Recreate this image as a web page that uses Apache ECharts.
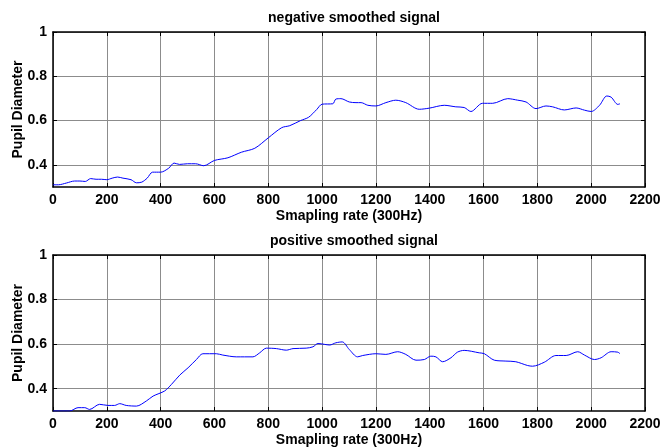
<!DOCTYPE html>
<html>
<head>
<meta charset="utf-8">
<script src="https://cdn.jsdelivr.net/npm/echarts@6/dist/echarts.min.js"></script>
<style>
  html, body { margin: 0; padding: 0; background: #fff; }
  #chart { width: 672px; height: 448px; }
</style>
</head>
<body>
<div id="chart"></div>
<script>
// negative smoothed signal
const negX = [0, 20, 50, 80, 100, 120, 140, 160, 180, 200, 220, 240, 260, 290, 310, 330, 350, 370, 400, 430, 450, 470, 500, 530, 560, 600, 650, 700, 750, 800, 850, 880, 920, 950, 980, 1000, 1040,
  1051, 1070, 1101, 1126, 1145, 1170, 1200, 1237, 1274, 1311, 1361, 1398, 1454, 1497, 1528, 1553, 1596, 1634, 1690, 1727, 1758, 1795, 1832, 1857, 1900, 1944, 1975, 2000, 2031, 2058, 2074, 2099, 2107];
const negY = [0.31, 0.31, 0.318, 0.327, 0.327, 0.325, 0.338, 0.335, 0.335, 0.333, 0.34, 0.345, 0.34, 0.333, 0.319, 0.322, 0.34, 0.367, 0.367, 0.385, 0.408, 0.402, 0.405, 0.405, 0.396, 0.42, 0.432, 0.457, 0.475, 0.522, 0.568, 0.577, 0.6, 0.615, 0.65, 0.674, 0.676,
  0.697, 0.699, 0.684, 0.681, 0.681, 0.669, 0.666, 0.681, 0.692, 0.681, 0.651, 0.656, 0.669, 0.662, 0.659, 0.641, 0.678, 0.678, 0.699, 0.692, 0.684, 0.654, 0.666, 0.662, 0.648, 0.657, 0.647, 0.641, 0.669, 0.711, 0.706, 0.673, 0.676];

// positive smoothed signal
const posX = [0, 62, 93, 118, 136, 173, 204, 229, 248, 272, 310, 347, 372, 415, 440, 471, 502, 533, 557, 607, 631, 681, 743, 768, 793, 830, 867, 892, 941, 966, 985, 1009, 1028,
  1051, 1075, 1101, 1132, 1151, 1200, 1237, 1281, 1311, 1349, 1380, 1404, 1423, 1448, 1479, 1503, 1528, 1584, 1603, 1640, 1683, 1720, 1764, 1782, 1826, 1869, 1907, 1950, 1975, 2012, 2037, 2074, 2099, 2107];
const posY = [0.3, 0.3, 0.315, 0.315, 0.307, 0.33, 0.325, 0.325, 0.333, 0.325, 0.322, 0.345, 0.367, 0.39, 0.419, 0.461, 0.494, 0.531, 0.557, 0.557, 0.551, 0.543, 0.543, 0.561, 0.582, 0.58, 0.573, 0.58, 0.582, 0.588, 0.603, 0.599, 0.596,
  0.606, 0.61, 0.576, 0.543, 0.549, 0.557, 0.554, 0.566, 0.554, 0.528, 0.531, 0.546, 0.543, 0.521, 0.539, 0.564, 0.572, 0.561, 0.557, 0.528, 0.524, 0.521, 0.504, 0.501, 0.519, 0.549, 0.549, 0.566, 0.551, 0.531, 0.539, 0.566, 0.564, 0.557];

const titles = ['negative smoothed signal', 'positive smoothed signal'];
const yTicks = [0.4, 0.6, 0.8, 1];
const xLabel = 'Smapling rate (300Hz)';
const yLabel = 'Pupil Diameter';

const font = 'Liberation Sans, Arial, sans-serif';
const black = '#000';

function pairs(xs, ys) {
  return xs.map((x, i) => [x, ys[i]]);
}

let myChart = echarts.init(document.getElementById('chart'), null, {renderer: 'canvas'});

const grids = [
  {left: 53, right: 27, top: 32, height: 155, outerBoundsMode: 'none', containLabel: false},
  {left: 53, right: 27, top: 255, height: 156, outerBoundsMode: 'none', containLabel: false}
];

let xAxes = [];
let yAxes = [];
grids.forEach((g, i) => {
  // main bottom axis
  xAxes.push({
    type: 'value', gridIndex: i, min: 0, max: 2200, interval: 200,
    name: xLabel, nameLocation: 'middle', nameGap: 22,
    nameTextStyle: {color: black, fontFamily: font, fontWeight: 'bold', fontSize: 14},
    axisLine: {show: true, onZero: false, lineStyle: {color: black, width: 1.5}},
    axisTick: {inside: true, length: 4, lineStyle: {color: black}},
    axisLabel: {color: black, fontFamily: font, fontWeight: 'bold', fontSize: 14, margin: 6,
      formatter: v => String(v)},
    splitLine: {show: true, lineStyle: {color: '#8c8c8c', width: 1}}
  });
  // top box edge
  xAxes.push({
    type: 'value', gridIndex: i, position: 'top', min: 0, max: 2200, interval: 200,
    axisLine: {show: true, onZero: false, lineStyle: {color: black, width: 1.5}},
    axisTick: {inside: true, length: 4, lineStyle: {color: black}},
    axisLabel: {show: false},
    splitLine: {show: false}
  });
  yAxes.push({
    type: 'value', gridIndex: i, min: 0.3, max: 1,
    name: yLabel, nameLocation: 'middle', nameGap: 28, nameMoveOverlap: false,
    nameTextStyle: {color: black, fontFamily: font, fontWeight: 'bold', fontSize: 14},
    axisLine: {show: true, onZero: false, lineStyle: {color: black, width: 1.5}},
    axisTick: {show: true, inside: true, length: 4, customValues: yTicks, lineStyle: {color: black}},
    axisLabel: {color: black, fontFamily: font, fontWeight: 'bold', fontSize: 14, margin: 6, customValues: yTicks},
    splitLine: {show: true, lineStyle: {color: '#8c8c8c', width: 1}}
  });
  yAxes.push({
    type: 'value', gridIndex: i, position: 'right', min: 0.3, max: 1,
    axisLine: {show: true, onZero: false, lineStyle: {color: black, width: 1.5}},
    axisTick: {show: true, inside: true, length: 4, customValues: yTicks, lineStyle: {color: black}},
    axisLabel: {show: false, customValues: yTicks},
    splitLine: {show: false}
  });
});

myChart.setOption({
  backgroundColor: '#fff',
  animation: false,
  title: [
    {text: titles[0], left: 349, top: 6, textAlign: 'center',
      textStyle: {color: black, fontFamily: font, fontWeight: 'bold', fontSize: 14}},
    {text: titles[1], left: 349, top: 229, textAlign: 'center',
      textStyle: {color: black, fontFamily: font, fontWeight: 'bold', fontSize: 14}}
  ],
  grid: grids,
  xAxis: xAxes,
  yAxis: yAxes,
  series: [
    {
      type: 'line', xAxisIndex: 0, yAxisIndex: 0,
      data: pairs(negX, negY),
      showSymbol: false, smooth: 0.3,
      lineStyle: {color: '#0000ff', width: 1}
    },
    {
      type: 'line', xAxisIndex: 2, yAxisIndex: 2,
      data: pairs(posX, posY),
      showSymbol: false, smooth: 0.3,
      lineStyle: {color: '#0000ff', width: 1}
    }
  ]
});
</script>
</body>
</html>
